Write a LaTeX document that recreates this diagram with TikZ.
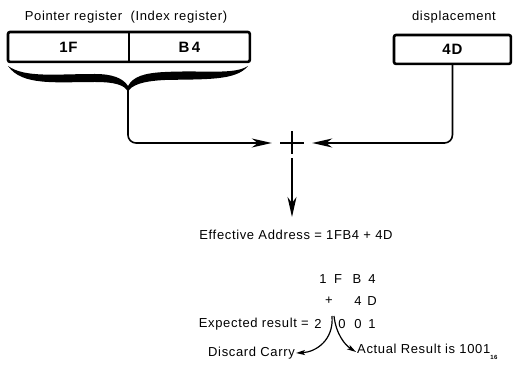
\documentclass[tikz,border=0pt]{standalone}
\usepackage{fontspec}
\setmainfont{Liberation Sans}[LetterSpace=5]
\usetikzlibrary{arrows.meta}
\tikzset{
  txt/.style={font=\fontsize{13}{15}\selectfont, inner sep=1pt},
  cell/.style={draw, line width=0.9pt, minimum width=120pt, minimum height=29pt, inner sep=0pt, font=\fontsize{15}{15}\selectfont\bfseries},
  frame/.style={line width=2.6pt, rounded corners=2pt},
  link/.style={line width=1.6pt, rounded corners=8pt, -{Stealth[length=20pt,width=9pt,inset=6pt]}},
  carry/.style={line width=1.2pt, -{Stealth[length=9pt,width=5pt,inset=2pt]}},
}

\begin{document}
\begin{tikzpicture}[x=1pt, y=-1pt]
  \useasboundingbox (0,0) rectangle (515,366);
  % registers
  \node[txt] (ptrlabel) at (126,17) {Pointer register\ \ (Index register)};
  \node[cell, anchor=north west] (hi) at (8,32) {1F};
  \node[cell, anchor=west] (lo) at (hi.east) {B\,4};
  \draw[frame] (hi.north west) rectangle (lo.south east);
  \node[txt] (displabel) at (454,17) {displacement};
  \node[cell, minimum width=116pt, minimum height=28pt, anchor=north west] (disp) at (394,35) {4D};
  \draw[frame] (disp.north west) rectangle (disp.south east);
  % brace
  \coordinate (tip) at (128,90);
  \fill (8,66) .. controls (22,86) and (55,82) .. (95,82) .. controls (115,82) and (125,85) .. (128,92)
    -- (128,86) .. controls (123,78) and (112,74) .. (95,74) .. controls (55,74) and (25,78) .. cycle;
  \fill (248,66) .. controls (236,81) and (205,79) .. (165,80) .. controls (143,81) and (131,85) .. (128,92)
    -- (128,86) .. controls (133,77) and (143,73) .. (165,72) .. controls (205,70) and (234,75) .. cycle;
  % adder
  \node[minimum width=40pt, minimum height=30pt, inner sep=0pt] (sum) at (292,143) {};
  \draw[line width=2.4pt] ([xshift=-12pt]sum.center) -- ([xshift=12pt]sum.center)
    ([yshift=-11pt]sum.center) -- ([yshift=12pt]sum.center);
  \draw[link] (tip) |- (sum.west);
  \draw[link] (disp.south) |- (sum.east);
  \node[txt, anchor=north, inner ysep=13pt] (ea) at (296,217) {Effective Address = 1FB4 + 4D};
  \draw[link] (sum.south) -- (sum.south |- ea.north);
  % sum
  \foreach \c/\x [count=\i] in {1/323,F/338,B/357,4/372}
    \node[txt] (a\i) at (\x,279) {\c};
  \foreach \c/\x [count=\i] in {+/329,4/358,D/372}
    \node[txt] (b\i) at (\x,301) {\c};
  \foreach \c/\x [count=\i] in {2/318,0/342,0/358,1/372}
    \node[txt] (c\i) at (\x,324) {\c};
  \node[txt, anchor=east] (expected) at (310,324) {Expected result =};
  \coordinate (split) at (332,316);
  \node[txt, anchor=east] (discard) at (296,353) {Discard Carry};
  \node[txt, anchor=west] (actual) at (356,352) {Actual Result is 1001\raisebox{-6pt}{\fontsize{6}{6}\selectfont\bfseries 16}};
  \draw[carry] (split) .. controls (334,340) and (316,352) .. (discard.east);
  \draw[carry] ([xshift=2pt]split) .. controls (336,334) and (345,345) .. (actual.west);
\end{tikzpicture}
\end{document}
